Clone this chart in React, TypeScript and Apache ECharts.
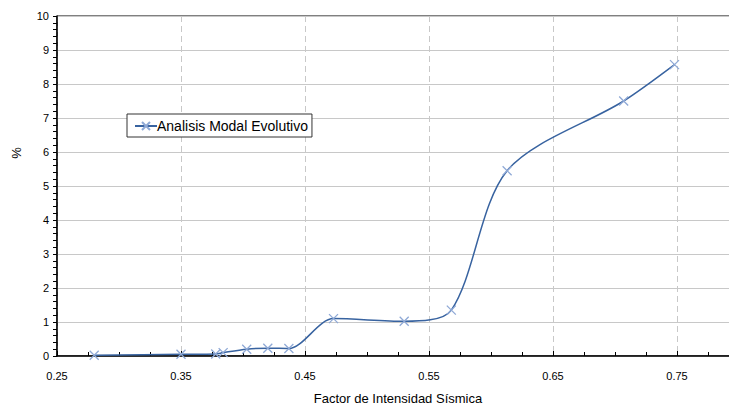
import React, { useEffect, useRef } from "react";
import * as echarts from "echarts";

const factor = [0.28, 0.35, 0.378, 0.384, 0.403, 0.42, 0.437, 0.473, 0.53, 0.568, 0.613, 0.707, 0.748];
const percent = [0.02, 0.05, 0.06, 0.1, 0.2, 0.23, 0.22, 1.1, 1.02, 1.35, 5.45, 7.5, 8.57];
const seriesName = "Analisis Modal Evolutivo";
const xTitle = "Factor de Intensidad Sísmica";
const yTitle = "%";

const FONT = "'Liberation Sans', Arial, sans-serif";

export default function App() {
  const ref = useRef<HTMLDivElement>(null);
  useEffect(() => {
    if (!ref.current) return;
    const chart = echarts.init(ref.current, undefined, { renderer: "svg" });
    const data = factor.map((x, i) => [x, percent[i]]);
    chart.setOption({
      animation: false,
      backgroundColor: "#ffffff",
      textStyle: { fontFamily: FONT },
      grid: {
        left: 57,
        top: 16,
        right: 6,
        bottom: 50,
        outerBoundsMode: "none",
        containLabel: false,
        show: true,
        borderColor: "#000",
        borderWidth: 1,
        backgroundColor: "transparent",
      },
      legend: {
        left: 127,
        top: 114,
        orient: "horizontal",
        backgroundColor: "#fff",
        borderColor: "#333",
        borderWidth: 1,
        borderRadius: 0,
        padding: [5, 4, 4, 7],
        itemWidth: 22,
        itemHeight: 10,
        itemGap: 2,
        textStyle: { fontFamily: FONT, fontSize: 14, color: "#000", padding: [0, 0, 0, -5] },
        data: [seriesName],
      },
      xAxis: {
        type: "value",
        min: 0.25,
        max: 0.8,
        interval: 0.1,
        name: xTitle,
        nameLocation: "middle",
        nameGap: 36,
        nameTextStyle: { fontFamily: FONT, fontSize: 13, color: "#000" },
        axisLine: { show: true, lineStyle: { color: "#000", width: 1.5 } },
        axisTick: { show: true, inside: true, length: 5, lineStyle: { color: "#000" } },
        minorTick: { show: true, splitNumber: 4, length: 4, lineStyle: { color: "#000" } },
        axisLabel: {
          fontFamily: FONT,
          fontSize: 11,
          color: "#000",
          margin: 14,
          showMaxLabel: false,
          formatter: (v: number) => (v > 0.78 ? "" : v.toFixed(2)),
        },
        splitLine: { show: true, lineStyle: { color: "#c8c8c8", type: [6, 4], width: 1 } },
      },
      yAxis: {
        type: "value",
        min: 0,
        max: 10,
        interval: 1,
        axisLine: { show: true, lineStyle: { color: "#000", width: 1.5 } },
        axisTick: { show: true, inside: false, length: 4, lineStyle: { color: "#000" } },
        minorTick: { show: true, splitNumber: 5, length: 4, lineStyle: { color: "#000" } },
        axisLabel: { fontFamily: FONT, fontSize: 11, color: "#000", margin: 8 },
        splitLine: { show: true, lineStyle: { color: "#c8c8c8", width: 1 } },
      },
      graphic: [
        {
          type: "text",
          x: 16,
          y: 153,
          rotation: Math.PI / 2,
          style: {
            text: yTitle,
            fontFamily: FONT,
            fontSize: 13,
            fill: "#000",
            align: "center",
            verticalAlign: "middle",
          },
        },
      ],
      series: [
        {
          name: seriesName,
          type: "line",
          data,
          smooth: 0.3,
          symbol: "path://M0,0L10,10M10,0L0,10",
          symbolSize: 9,
          showSymbol: true,
          lineStyle: { color: "#3863a0", width: 1.5 },
          itemStyle: { color: "#3863a0", borderColor: "#8fa9d6", borderWidth: 1.3 },
          z: 3,
        },
      ],
    });
    return () => chart.dispose();
  }, []);
  return (
    <div
      ref={ref}
      style={{ position: "fixed", left: 0, top: 0, width: 745, height: 406 }}
    />
  );
}
